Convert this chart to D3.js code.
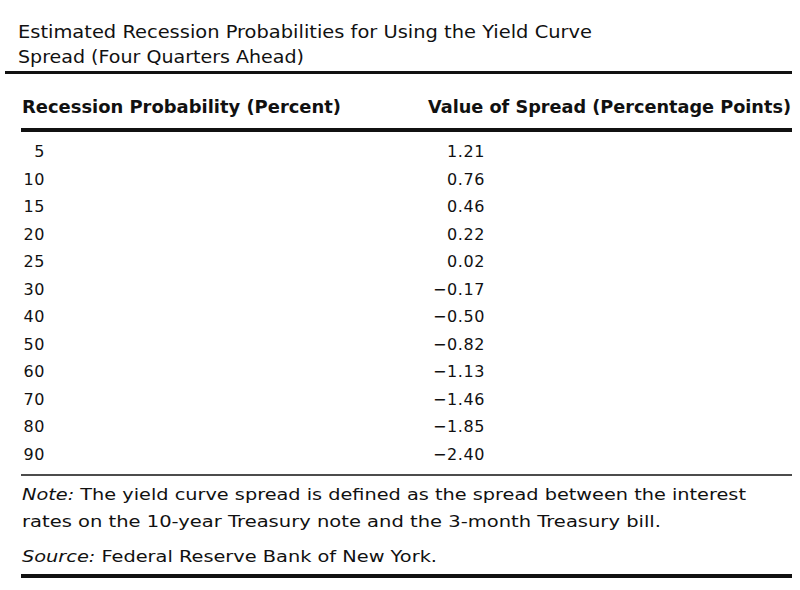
<!DOCTYPE html>
<html>
<head>
<meta charset="utf-8">
<script src="https://cdn.jsdelivr.net/npm/d3@7/dist/d3.min.js"></script>
<style>
  html, body { margin: 0; padding: 0; background: #fff; }
  svg { display: block; }
  text { font-family: "DejaVu Sans", "Noto Sans", sans-serif; fill: #111; }
</style>
</head>
<body>
<svg id="chart" width="800" height="590"></svg>
<script>
// ---- data ----
const titleLines = [
  "Estimated Recession Probabilities for Using the Yield Curve",
  "Spread (Four Quarters Ahead)"
];
const columnHeaders = ["Recession Probability (Percent)", "Value of Spread (Percentage Points)"];
const probabilities = [5, 10, 15, 20, 25, 30, 40, 50, 60, 70, 80, 90];
const spreads = [1.21, 0.76, 0.46, 0.22, 0.02, -0.17, -0.50, -0.82, -1.13, -1.46, -1.85, -2.40];
const noteLabel = "Note:";
const noteLines = [
  " The yield curve spread is defined as the spread between the interest",
  "rates on the 10-year Treasury note and the 3-month Treasury bill."
];
const sourceLabel = "Source:";
const sourceText = " Federal Reserve Bank of New York.";

// ---- drawing ----
const svg = d3.select("#chart");
const fmt = d3.format(".2f");

function fitText(sel, w) {
  sel.attr("textLength", w).attr("lengthAdjust", "spacingAndGlyphs");
}

// title
const titleWidths = [574, 286];
titleLines.forEach((t, i) => {
  svg.append("text")
    .attr("x", 18).attr("y", 38 + i * 25)
    .style("font-size", "18.5px")
    .text(t)
    .call(fitText, titleWidths[i]);
});

// rules
function rule(x1, x2, y, w) {
  svg.append("line")
    .attr("x1", x1).attr("x2", x2).attr("y1", y).attr("y2", y)
    .attr("stroke", "#111").attr("stroke-width", w);
}
rule(5, 792, 72.5, 3);
rule(21, 792, 130, 4);
rule(21, 792, 475, 1.5);
rule(21, 792, 576, 4);

// headers
svg.append("text").attr("x", 22).attr("y", 113)
  .style("font-size", "17px").style("font-weight", "bold")
  .text(columnHeaders[0]).call(fitText, 319);
svg.append("text").attr("x", 428).attr("y", 113)
  .style("font-size", "17px").style("font-weight", "bold")
  .text(columnHeaders[1]).call(fitText, 363);

// rows
const y = d3.scalePoint()
  .domain(probabilities)
  .range([157, 460]);

const rows = svg.append("g").selectAll("g")
  .data(probabilities.map((p, i) => ({ p, s: spreads[i] })))
  .join("g");

rows.append("text")
  .attr("x", 45)
  .attr("y", d => y(d.p))
  .attr("text-anchor", "end")
  .style("font-size", "16px")
  .style("letter-spacing", "0.6px")
  .text(d => d.p);

rows.append("text")
  .attr("x", 485)
  .attr("y", d => y(d.p))
  .attr("text-anchor", "end")
  .style("font-size", "16px")
  .style("letter-spacing", "0.6px")
  .text(d => fmt(d.s));

// note
const n1 = svg.append("text").attr("x", 22).attr("y", 500).style("font-size", "16.5px");
n1.append("tspan").style("font-style", "italic").text(noteLabel);
n1.append("tspan").text(noteLines[0]);
n1.call(fitText, 724);

svg.append("text").attr("x", 22).attr("y", 527).style("font-size", "16.5px")
  .text(noteLines[1]).call(fitText, 639);

const s1 = svg.append("text").attr("x", 22).attr("y", 562).style("font-size", "16.5px");
s1.append("tspan").style("font-style", "italic").text(sourceLabel);
s1.append("tspan").text(sourceText);
s1.call(fitText, 415);
</script>
</body>
</html>
